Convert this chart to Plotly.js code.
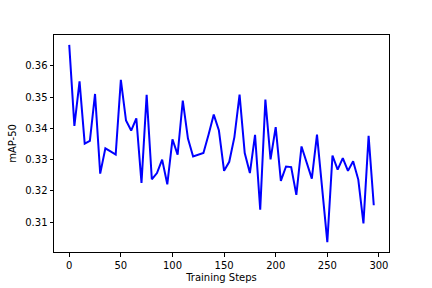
<!DOCTYPE html>
<html>
<head>
<meta charset="utf-8">
<script src="https://cdn.plot.ly/plotly-3.0.1.min.js"></script>
<style>
  html, body { margin: 0; padding: 0; background: #fff; }
  #chart { width: 432px; height: 288px; }
</style>
</head>
<body>
<div id="chart"></div>
<script>
// mAP-50 over training steps
var steps = [
  0, 5, 10, 15, 20, 25, 30, 35, 40, 45,
  50, 55, 60, 65, 70, 75, 80, 85, 90, 95,
  100, 105, 110, 115, 120, 125, 130, 135, 140, 145,
  150, 155, 160, 165, 170, 175, 180, 185, 190, 195,
  200, 205, 210, 215, 220, 225, 230, 235, 240, 245,
  250, 255, 260, 265, 270, 275, 280, 285, 290, 295
];

var map50 = [
  0.3667, 0.3408, 0.3550, 0.3351, 0.3360, 0.3510, 0.3255, 0.3336, 0.3326, 0.3316,
  0.3555, 0.3425, 0.3393, 0.3432, 0.3225, 0.3507, 0.3237, 0.3257, 0.3300, 0.3221,
  0.3365, 0.3316, 0.3489, 0.3367, 0.3310, 0.3315, 0.3321, 0.3380, 0.3444, 0.3393,
  0.3264, 0.3293, 0.3372, 0.3508, 0.3321, 0.3257, 0.3379, 0.3140, 0.3492, 0.3301,
  0.3404, 0.3232, 0.3278, 0.3276, 0.3187, 0.3342, 0.3294, 0.3239, 0.3380, 0.3205,
  0.3036, 0.3313, 0.3268, 0.3305, 0.3264, 0.3295, 0.3236, 0.3096, 0.3376, 0.3154
];

var data = [{
  x: steps,
  y: map50,
  mode: 'lines',
  type: 'scatter',
  line: { color: '#0000ff', width: 2 },
  name: 'mAP-50'
}];

var axisStyle = {
  showgrid: false,
  zeroline: false,
  showline: true,
  mirror: true,
  linecolor: '#000',
  linewidth: 1,
  ticks: 'outside',
  ticklen: 3.5,
  tickcolor: '#000',
  tickfont: { size: 10, color: '#000' }
};

var layout = {
  width: 432,
  height: 288,
  margin: { l: 54, r: 43, t: 35, b: 36 },
  paper_bgcolor: '#fff',
  plot_bgcolor: '#fff',
  font: { family: 'DejaVu Sans, sans-serif', size: 10, color: '#000' },
  showlegend: false,
  xaxis: Object.assign({}, axisStyle, {
    range: [-14.75, 309.75],
    tickvals: [0, 50, 100, 150, 200, 250, 300],
    title: { text: 'Training Steps', font: { size: 10 }, standoff: 4 }
  }),
  yaxis: Object.assign({}, axisStyle, {
    range: [0.30044, 0.36986],
    tickvals: [0.31, 0.32, 0.33, 0.34, 0.35, 0.36],
    tickformat: '.2f',
    title: { text: 'mAP-50', font: { size: 10 }, standoff: 6 }
  })
};

Plotly.newPlot('chart', data, layout, { staticPlot: true });
</script>
</body>
</html>
